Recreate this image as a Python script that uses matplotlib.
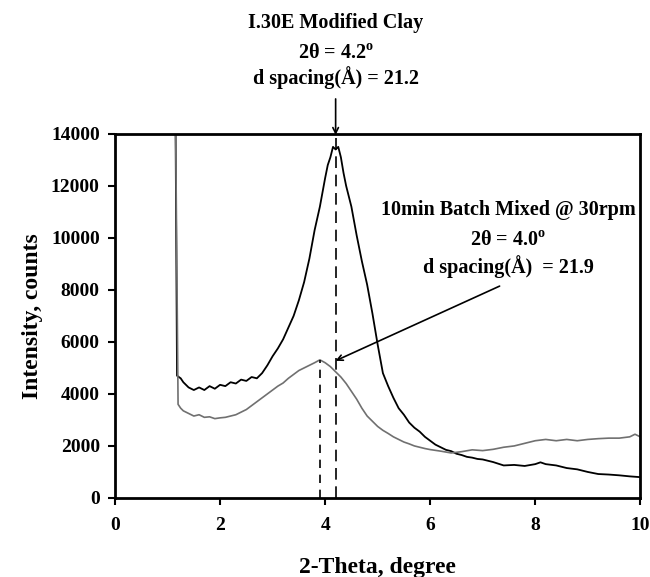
import numpy as np
import matplotlib
matplotlib.use('Agg')
import matplotlib.pyplot as plt

# I.30E modified clay (black trace)
clay_x = [1.15, 1.18, 1.25, 1.3, 1.4, 1.5, 1.6, 1.7, 1.8, 1.9, 2.0, 2.1, 2.2, 2.3, 2.4, 2.5,
          2.6, 2.7, 2.8, 2.9, 3.0, 3.1, 3.2, 3.3, 3.4, 3.5, 3.6, 3.7, 3.8, 3.9, 4.0, 4.05,
          4.1, 4.15, 4.2, 4.25, 4.3, 4.35, 4.4, 4.5, 4.6, 4.7, 4.8, 4.9, 5.0, 5.1, 5.2, 5.3,
          5.4, 5.5, 5.6, 5.7, 5.8, 5.9, 6.0, 6.1, 6.2, 6.3, 6.4, 6.5, 6.6, 6.7, 6.8, 6.9,
          7.0, 7.2, 7.4, 7.6, 7.8, 8.0, 8.1, 8.2, 8.4, 8.6, 8.8, 9.0, 9.2, 9.4, 9.6, 9.8, 10.0]
clay_y = [15000, 4700, 4600, 4450, 4250, 4150, 4250, 4150, 4300, 4200, 4350, 4300, 4450, 4400, 4550, 4500,
          4650, 4600, 4800, 5100, 5450, 5750, 6100, 6550, 7000, 7600, 8300, 9200, 10300, 11200, 12300, 12800,
          13100, 13500, 13400, 13500, 13100, 12500, 12000, 11200, 10100, 9100, 8200, 7100, 5900, 4800, 4300, 3850,
          3450, 3200, 2900, 2700, 2550, 2350, 2200, 2050, 1950, 1850, 1800, 1700, 1650, 1580, 1550, 1500,
          1480, 1380, 1250, 1270, 1230, 1300, 1370, 1300, 1250, 1150, 1100, 1000, 920, 900, 870, 830, 800]

# 10 min batch mixed @ 30 rpm (gray trace)
mix_x = [1.15, 1.2, 1.25, 1.3, 1.4, 1.5, 1.6, 1.7, 1.8, 1.9, 2.0, 2.1, 2.2, 2.3, 2.4, 2.5,
         2.6, 2.7, 2.8, 2.9, 3.0, 3.1, 3.2, 3.3, 3.4, 3.5, 3.6, 3.7, 3.8, 3.9, 4.0, 4.1,
         4.2, 4.3, 4.4, 4.5, 4.6, 4.7, 4.8, 4.9, 5.0, 5.1, 5.2, 5.3, 5.4, 5.5, 5.6, 5.7,
         5.8, 5.9, 6.0, 6.2, 6.4, 6.6, 6.8, 7.0, 7.2, 7.4, 7.6, 7.8, 8.0, 8.2, 8.4, 8.6,
         8.8, 9.0, 9.2, 9.4, 9.6, 9.8, 9.9, 10.0]
mix_y = [15000, 3600, 3450, 3350, 3250, 3150, 3200, 3100, 3120, 3050, 3080, 3100, 3150, 3200, 3300, 3400,
         3550, 3700, 3850, 4000, 4150, 4300, 4420, 4600, 4750, 4900, 5000, 5100, 5200, 5310, 5200, 5050,
         4850, 4650, 4400, 4100, 3800, 3450, 3150, 2950, 2750, 2600, 2480, 2350, 2250, 2150, 2080, 2000,
         1950, 1900, 1860, 1800, 1730, 1780, 1850, 1820, 1870, 1950, 2000, 2100, 2200, 2250, 2200, 2250,
         2200, 2250, 2280, 2300, 2300, 2350, 2450, 2350]

peak_clay = 4.2
peak_mix = 3.9
peak_mix_y = 5310

plt.rcParams['font.family'] = ['Liberation Serif', 'DejaVu Serif']
plt.rcParams['font.weight'] = 'bold'
plt.rcParams['mathtext.fontset'] = 'custom'
plt.rcParams['mathtext.rm'] = 'Liberation Serif:bold'

fig = plt.figure(figsize=(6.5, 5.77), dpi=100)
ax = fig.add_axes([0.177, 0.137, 0.808, 0.631])

ax.plot(clay_x, clay_y, color='black', linewidth=1.3)
ax.plot(mix_x, mix_y, color='#707070', linewidth=1.2)

# peak markers
ax.plot([peak_mix, peak_mix], [0, peak_mix_y], color='black', linestyle=(0, (5, 4)), linewidth=1.2)
ax.plot([peak_clay, peak_clay], [0, 14000], color='black', linestyle=(0, (7, 4)), linewidth=1.2)

ax.set_xlim(0, 10)
ax.set_ylim(0, 14000)
ax.set_xticks([0, 2, 4, 6, 8, 10])
ax.set_yticks(range(0, 14001, 2000))
ax.tick_params(direction='out', length=5, width=1.5, labelsize=14)
ax.tick_params(axis='x', pad=9)
ax.tick_params(axis='y', pad=6)
for lab in ax.get_xticklabels() + ax.get_yticklabels():
    lab.set_fontweight('bold')
for s in ax.spines.values():
    s.set_linewidth(2)

ax.set_xlabel('2-Theta, degree', fontsize=17, fontweight='bold', labelpad=16)
ax.set_ylabel('Intensity, counts', fontsize=17, fontweight='bold', labelpad=6)

fs = 14.5
# top annotation
ax.text(4.2, 18270, 'I.30E Modified Clay', ha='center', va='center', fontsize=fs, fontweight='bold', clip_on=False)
ax.text(4.2, 17120, r'2θ = 4.2$^{\mathrm{o}}$', ha='center', va='center', fontsize=fs, fontweight='bold', clip_on=False)
ax.text(4.2, 16150, 'd spacing(Å) = 21.2', ha='center', va='center', fontsize=fs, fontweight='bold', clip_on=False)
ax.annotate('', xy=(4.2, 13850), xytext=(4.2, 15450), annotation_clip=False,
            arrowprops=dict(arrowstyle='->', color='black', lw=1.2))

# mixed sample annotation
ax.text(7.49, 11080, '10min Batch Mixed @ 30rpm', ha='center', va='center', fontsize=fs, fontweight='bold')
ax.text(7.49, 9930, r'2θ = 4.0$^{\mathrm{o}}$', ha='center', va='center', fontsize=fs, fontweight='bold')
ax.text(7.49, 8880, 'd spacing(Å)  = 21.9', ha='center', va='center', fontsize=fs, fontweight='bold')
ax.annotate('', xy=(4.15, 5230), xytext=(7.37, 8190),
            arrowprops=dict(arrowstyle='->', color='black', lw=1.2))

fig.savefig('out.png', dpi=100)
